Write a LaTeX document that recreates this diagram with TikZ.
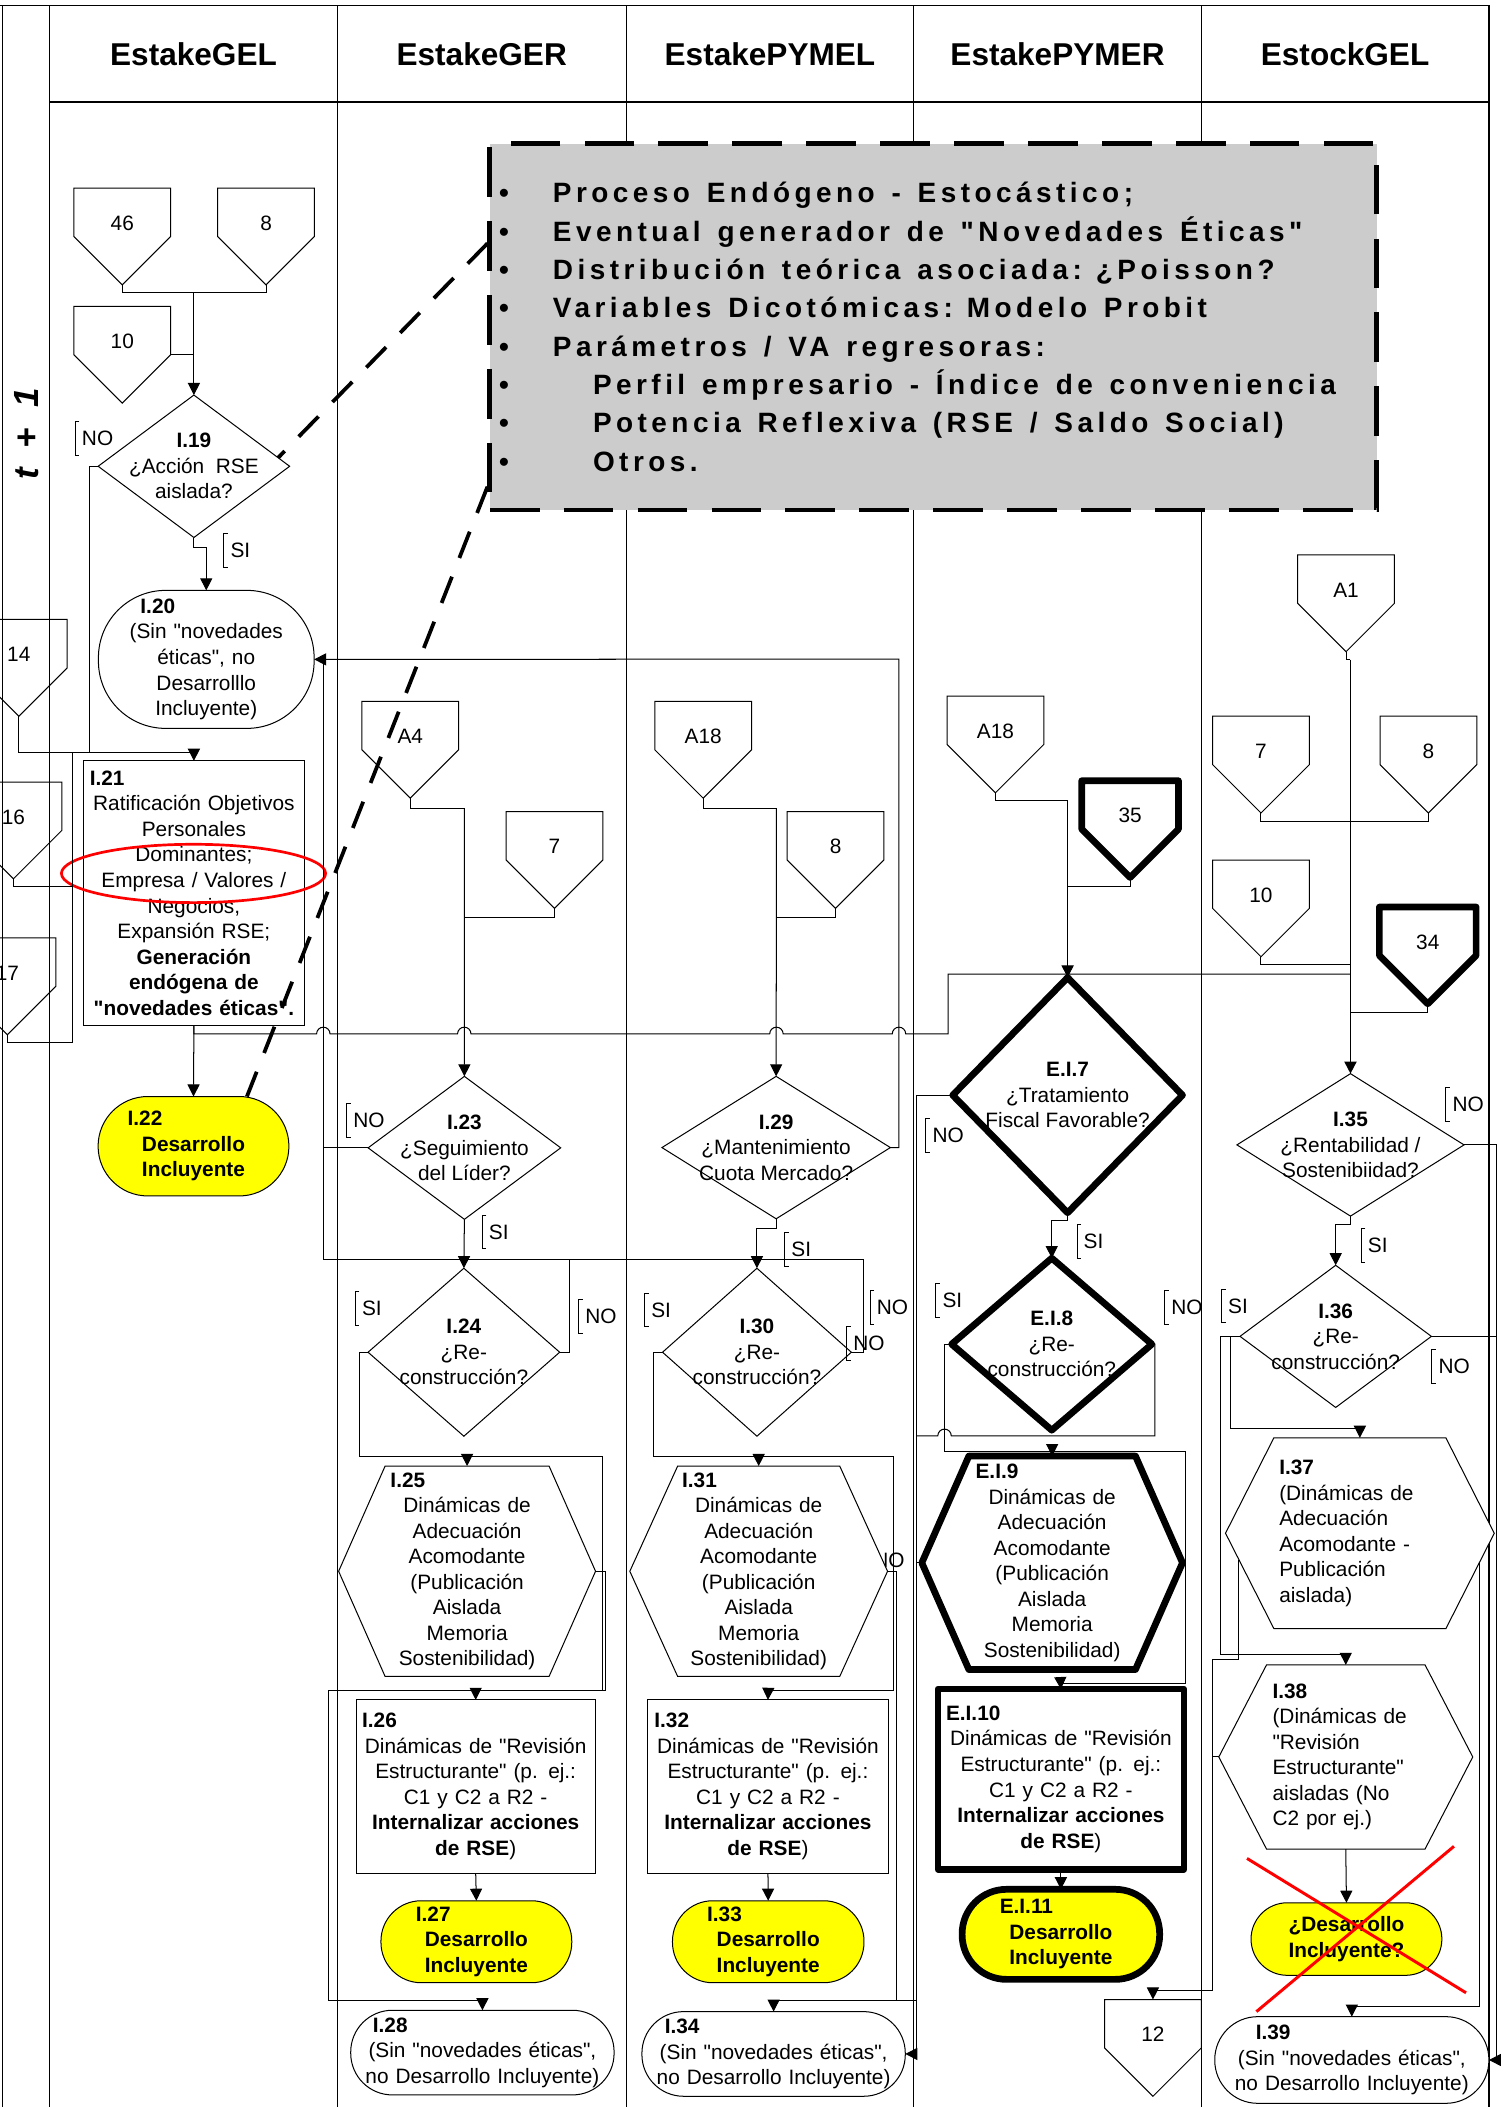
\documentclass[tikz,border=0pt]{standalone}
\usepackage{fontspec}
\setmainfont[Ligatures=TeXOff]{Liberation Sans}
\newfontfamily\notefont[LetterSpace=16, Ligatures=TeXOff]{Liberation Sans}
\usepackage{xcolor}
\usetikzlibrary{arrows.meta, positioning, calc}
\definecolor{notegray}{RGB}{204,204,204}
\definecolor{devyellow}{RGB}{255,255,0}
\tikzset{
    wire/.style={line width=0.75pt},
    arr/.style={wire, -{Triangle[length=9pt, width=9pt]}},
    lane/.style={line width=1pt},
    thickline/.style={line width=5pt, line join=round},
    bodytext/.style={font=\fontsize{15.5}{19}\selectfont, inner sep=0pt, outer sep=0pt},
    headtext/.style={font=\fontsize{23.5}{28}\selectfont\bfseries},
    boxnode/.style={bodytext, draw, wire, fill=white, align=center},
    termnode/.style={boxnode, rounded corners=31pt},
    devnode/.style={termnode, fill=devyellow, font=\fontsize{15.5}{19}\selectfont\bfseries},
    brtext/.style={bodytext, inner xsep=5pt, minimum height=25pt},
    notebox/.style={fill=notegray, draw=black, line width=3.5pt, dash pattern=on 37pt off 18pt,
        inner xsep=7pt, inner ysep=0pt, align=left,
        font=\notefont\fontsize{20.8}{28.5}\selectfont\bfseries},
    notelink/.style={line width=2.8pt, dash pattern=on 21pt off 15pt},
}
% off-page connector: [style]{name}{x}{top y}{label}
\newcommand{\offpage}[5][]{%
    \draw[wire,#1] (#3-36,#4) -- (#3+36,#4) -- (#3+36,#4+36) -- (#3,#4+72) -- (#3-36,#4+36) -- cycle;
    \node[bodytext] (#2) at (#3,#4+26) {#5};
    \coordinate (#2-n) at (#3,#4);
    \coordinate (#2-t) at (#3,#4+72);
    \coordinate (#2-e) at (#3+36,#4+36);
}
% decision: [style]{name}{x}{y}{width}{height}{text}
\newcommand{\decision}[7][]{%
    \node[bodytext, align=center, minimum width=#5, minimum height=#6] (#2) at (#3,#4) {#7};
    \draw[wire,#1] (#2.north) -- (#2.east) -- (#2.south) -- (#2.west) -- cycle;
}
% hexagon: [style]{name}{x}{y}{half top}{half width}{half height}{text width}{text}
\newcommand{\hexbox}[9][]{%
    \draw[wire, fill=white, #1] (#3-#5,#4-#7) -- (#3+#5,#4-#7) -- (#3+#6,#4) -- (#3+#5,#4+#7) -- (#3-#5,#4+#7) -- (#3-#6,#4) -- cycle;
    \node[bodytext, align=center, text width=#8, minimum width=2*#6, minimum height=2*#7, #1] (#2) at (#3,#4) {#9};
}
% bracket label: {name}{x}{y}{text}
\newcommand{\brlabel}[4]{%
    \node[brtext, anchor=west] (#1) at (#2,#3) {#4};
    \draw[wire] ([xshift=3pt]#1.north west) -- (#1.north west) -- (#1.south west) -- ([xshift=3pt]#1.south west);
}
\newcommand{\ttl}[2]{\hspace*{#1pt}\textbf{#2}\hfill\null}

\begin{document}
\begin{tikzpicture}[x=1pt, y=-1pt]
    \useasboundingbox (0,0) rectangle (1121,1568);
    \clip (0,0) rectangle (1121,1568);

    % lanes
    \draw[lane] (0,4) -- (1108,4);
    \draw[lane] (2,4) -- (2,1568);
    \foreach \lx in {37,251,466,680,894,1108} \draw[lane] (\lx,4) -- (\lx,1568);
    \draw[lane] (37,76) -- (1108,76);
    \node[headtext] (hdGEL)   at (144,40)   {EstakeGEL};
    \node[headtext] (hdGER)   at (358.5,40) {EstakeGER};
    \node[headtext] (hdPYMEL) at (573,40)   {EstakePYMEL};
    \node[headtext] (hdPYMER) at (787,40)   {EstakePYMER};
    \node[headtext] (hdSGEL)  at (1001,40)  {EstockGEL};
    \node[rotate=90, font=\fontsize{26}{30}\selectfont\bfseries\itshape] (periodo) at (20,323) {t\hspace{15pt}+\hspace{15pt}1};

    % callout
    \node[notebox, minimum width=660, minimum height=272.5, text width=646] (nota) at (694.5,243.25) {%
        \spaceskip=12.5pt plus 1pt minus 1pt\relax
        \makebox[40pt][l]{•}Proceso Endógeno - Estocástico;\\
        \makebox[40pt][l]{•}Eventual generador de "Novedades Éticas"\\
        \makebox[40pt][l]{•}Distribución teórica asociada: ¿Poisson?\\
        \makebox[40pt][l]{•}Variables Dicotómicas: Modelo Probit\\
        \makebox[40pt][l]{•}Parámetros / VA regresoras:\\
        \makebox[40pt][l]{•}\hspace*{29.8pt}Perfil empresario - Índice de conveniencia\\
        \makebox[40pt][l]{•}\hspace*{29.8pt}Potencia Reflexiva (RSE / Saldo Social)\\
        \makebox[40pt][l]{•}\hspace*{29.8pt}Otros.};

    % ---- EstakeGEL
    \offpage{c46}{91}{140}{46}
    \offpage{c8a}{198}{140}{8}
    \offpage{c10a}{91}{228}{10}
    \offpage{c14}{14}{461}{14}
    \offpage{c16}{10}{582}{16}
    \offpage{c17}{5.5}{698}{17}

    \decision{I19}{144.3}{347}{142.5}{106}{\textbf{I.19}\\¿Acción\ \ RSE\\aislada?}
    \brlabel{lNO19}{56}{326.4}{NO}
    \brlabel{lSI19}{166.6}{409.7}{SI}
    \node[termnode, minimum width=160.5, minimum height=102.7, rounded corners=50pt, text width=150] (I20) at (153.5,490.7)
        {\ttl{26}{I.20}\\(Sin "novedades\\éticas", no\\Desarrolllo\\Incluyente)};
    \node[boxnode, minimum width=164.5, minimum height=196.8, text width=157] (I21) at (144.3,664.6)
        {\ttl{1}{I.21}\\Ratificación Objetivos\\Personales\\Dominantes;\\Empresa / Valores /\\Negocios,\\Expansión RSE;\\\textbf{Generación}\\\textbf{endógena de}\\\textbf{"novedades éticas".}};
    \draw[red, line width=2pt] (144,650) ellipse [x radius=98.3, y radius=21.7];
    \node[devnode, minimum width=142, minimum height=74, rounded corners=37pt, text width=130] (I22) at (144,853)
        {\ttl{16}{I.22}\\Desarrollo\\Incluyente};

    \coordinate (jGEL) at (144.3,217.5);
    \coordinate (jI21) at (144.3,560);
    \coordinate (jNO19) at (66.7,560);
    \coordinate (j1617) at (54,560);
    \draw[wire] (c46-t) |- (jGEL) -| (c8a-t);
    \draw[arr] (jGEL) -- (I19.north);
    \draw[wire] (c10a-e) -- (c10a-e -| jGEL);
    \draw[wire] (I19.west) -| (jNO19);
    \draw[arr] (I19.south) -- ++(0,7.5) -| (I20.north);
    \draw[wire] (c14-t) |- (jI21);
    \draw[arr] (jI21) -- (I21.north);
    \draw[wire] (c16-t) |- (54,660);
    \draw[wire] (c17-t) |- (54,775.8) -- (j1617);
    \draw[arr] (I21.south) -- (I22.north);

    % ---- EstakeGER
    \offpage{cA4}{305.3}{522}{A4}
    \offpage{c7b}{412.6}{604}{7}
    \decision{I23}{345.6}{854.2}{143.3}{106.4}{\textbf{I.23}\\¿Seguimiento\\del Líder?}
    \brlabel{lNO23}{257.9}{834}{NO}
    \brlabel{lSI23}{358.9}{916.7}{SI}
    \decision{I24}{345.2}{1006.3}{142.6}{125}{\textbf{I.24}\\¿Re-\\construcción?}
    \brlabel{lSI24}{264.4}{973.7}{SI}
    \brlabel{lNO24}{430.6}{979.7}{NO}
    \hexbox{I25}{347.6}{1169.3}{61}{95.6}{78.3}{140}
        {\ttl{13}{I.25}\\Dinámicas de\\Adecuación\\Acomodante\\(Publicación\\Aislada\\Memoria\\Sostenibilidad)}
    \node[boxnode, minimum width=178, minimum height=129, text width=172] (I26) at (354,1329.5)
        {\ttl{1.5}{I.26}\\Dinámicas de "Revisión\\Estructurante" (p. ej.:\\C1 y C2 a R2 -\\\textbf{Internalizar acciones}\\\textbf{de RSE})};
    \node[devnode, minimum width=142, minimum height=61, rounded corners=30pt, text width=130] (I27) at (354.5,1445)
        {\ttl{20}{I.27}\\Desarrollo\\Incluyente};
    \node[termnode, minimum width=196, minimum height=63, rounded corners=31pt, text width=182] (I28) at (359,1527.5)
        {\ttl{9.5}{I.28}\\(Sin "novedades éticas",\\no Desarrollo Incluyente)};

    \coordinate (jA4) at (345.5,601.5);
    \coordinate (jI20) at (240.6,490.5);
    \coordinate (jLoop) at (240.6,937);
    \coordinate (jLoopR) at (642.6,937);
    \coordinate (jNO24) at (423.8,937);
    \coordinate (jI25) at (347.6,1083.8);
    \coordinate (jI25r) at (448.2,1258);
    \coordinate (jI26) at (354,1258);
    \coordinate (jByp) at (244.7,1488.6);
    \draw[wire] (cA4-t) |- (jA4);
    \draw[arr] (jA4) -- (I23.north);
    \draw[wire] (c7b-t) -- ++(0,7) -| (jA4);
    \draw[wire] (I23.west) -- (I23.west -| jI20);
    \draw[arr] (I23.south) -- (I24.north);
    \draw[wire] (I24.east) -| (jNO24);
    \draw[wire] (I24.west) -- ++(-6.5,0) |- (jI25);
    \draw[arr] (jI25) -- (I25.north);
    \draw[wire] (jI25) -| (jI25r) -- (jI26);
    \draw[wire] (I25.east) -- ++(7.3,0) |- (jI26);
    \draw[arr] (jI26) -- (I26.north);
    \draw[arr] (jI26) -| (jByp) -| (I28.north);
    \draw[arr] (I26.south) -- (I27.north);

    % ---- EstakePYMEL
    \offpage{cA18a}{523.3}{522}{A18}
    \offpage{c8c}{621.8}{604}{8}
    \decision{I29}{577.6}{854}{170}{106}{\textbf{I.29}\\¿Mantenimiento\\Cuota Mercado?}
    \brlabel{lSI29}{584}{930}{SI}
    \decision{I30}{563.3}{1006.3}{140.5}{125}{\textbf{I.30}\\¿Re-\\construcción?}
    \brlabel{lSI30}{479.7}{975}{SI}
    \brlabel{lNO30a}{647.5}{973}{NO}
    \brlabel{lNO30b}{630}{1000}{NO}
    \node[bodytext, anchor=west] (lNO31) at (650,1161) {NO};
    \hexbox{I31}{564.6}{1169.3}{60.3}{95.9}{78.3}{140}
        {\ttl{13}{I.31}\\Dinámicas de\\Adecuación\\Acomodante\\(Publicación\\Aislada\\Memoria\\Sostenibilidad)}
    \node[boxnode, minimum width=179, minimum height=129, text width=172] (I32) at (571.5,1329.5)
        {\ttl{1.5}{I.32}\\Dinámicas de "Revisión\\Estructurante" (p. ej.:\\C1 y C2 a R2 -\\\textbf{Internalizar acciones}\\\textbf{de RSE})};
    \node[devnode, minimum width=142.5, minimum height=61, rounded corners=30pt, text width=130] (I33) at (571.7,1445)
        {\ttl{19.5}{I.33}\\Desarrollo\\Incluyente};
    \node[termnode, minimum width=196, minimum height=63, rounded corners=31pt, text width=182] (I34) at (575.7,1528.5)
        {\ttl{10}{I.34}\\(Sin "novedades éticas",\\no Desarrollo Incluyente)};

    \coordinate (jA18a) at (577.8,601.5);
    \coordinate (jNO29) at (669,490.5);
    \coordinate (jI31) at (564.6,1083.8);
    \coordinate (jI31r) at (665,1258);
    \coordinate (jI32) at (571.7,1258);
    \coordinate (jI31b) at (667.3,1488.6);
    \coordinate (jI34r) at (682,1488.6);
    \draw[wire] (jI20) -- (jLoop) -- (jLoopR) |- (I30.east);
    \draw[wire] (cA18a-t) |- (jA18a);
    \draw[arr] (jA18a) -- (I29.north);
    \draw[wire] (c8c-t) -- ++(0,6.5) -| (jA18a);
    \draw[arr] (I29.east) -| (jNO29) -- (I20.east);
    \draw[arr] (I29.south) -- ++(0,7.5) -| (I30.north);
    \draw[wire] (I30.west) -- ++(-7.1,0) |- (jI31);
    \draw[arr] (jI31) -- (I31.north);
    \draw[wire] (jI31) -| (jI31r) -- (jI32);
    \draw[arr] (jI32) -- (I32.north);
    \draw[wire] (I31.east) -| (jI31b);
    \draw[arr] (jI34r) -| (I34.north);
    \draw[arr] (I32.south) -- (I33.north);

    % ---- EstakePYMER
    \offpage{cA18b}{740.8}{518}{A18}
    \offpage[thickline]{c35}{841}{581}{35}
    \decision[thickline]{EI7}{794.5}{815}{171}{175}{\textbf{E.I.7}\\¿Tratamiento\\Fiscal Favorable?}
    \brlabel{lNO7}{689}{845}{NO}
    \brlabel{lSI7}{801.5}{924}{SI}
    \decision[thickline]{EI8}{782.7}{1000.3}{149}{128}{\textbf{E.I.8}\\¿Re-\\construcción?}
    \brlabel{lSI8}{696.4}{968}{SI}
    \brlabel{lNO8}{866.7}{973}{NO}
    \hexbox[thickline]{EI9}{783}{1163}{62}{97}{79.4}{140}
        {\ttl{13}{E.I.9}\\Dinámicas de\\Adecuación\\Acomodante\\(Publicación\\Aislada\\Memoria\\Sostenibilidad)}
    \node[boxnode, thickline, minimum width=183, minimum height=134, text width=175] (EI10) at (789.5,1324)
        {\ttl{2}{E.I.10}\\Dinámicas de "Revisión\\Estructurante" (p. ej.:\\C1 y C2 a R2 -\\\textbf{Internalizar acciones}\\\textbf{de RSE})};
    \node[devnode, thickline, minimum width=147, minimum height=67, rounded corners=33pt, text width=131] (EI11) at (789.5,1439.5)
        {\ttl{20}{E.I.11}\\Desarrollo\\Incluyente};
    \offpage{c12}{858}{1488}{12}

    \coordinate (jA18b) at (794.5,596);
    \coordinate (jNO7) at (682,1528.5);
    \coordinate (jNO8) at (682,1068.5);
    \coordinate (jEI9) at (783,1080);
    \coordinate (jEI9r) at (882.4,1253);
    \coordinate (jEI10) at (789.3,1253);
    \draw[wire] (cA18b-t) |- (jA18b);
    \draw[arr] (jA18b) -- (EI7.north);
    \draw[wire] (c35-t) -- ++(0,6.4) -| (jA18b);
    \draw[arr] (EI7.west) -| (jNO7) -- (I34.east);
    \draw[arr] (EI7.south) -- ++(0,6) -| (EI8.north);
    \draw[wire] (EI8.west) -- ++(-5.3,0) |- (jEI9);
    \draw[arr] (jEI9) -- (EI9.north);
    \draw[wire] (jEI9) -| (jEI9r) -- (jEI10);
    \draw[arr] (jEI10) -- (EI10.north);
    \draw[wire] (EI8.east) -- ++(2.2,0) |- (707.9,1068.5) arc[start angle=0, end angle=180, radius=5pt] -- (jNO8);
    \draw[wire] (EI9.west) -- (EI9.west -| jNO7);
    \draw[arr] (EI10.south) -- (EI11.north);

    % ---- EstockGEL
    \offpage{cA1}{1001.7}{413}{A1}
    \offpage{c7e}{938.4}{533}{7}
    \offpage{c8e}{1063}{533}{8}
    \offpage{c10e}{938.4}{640}{10}
    \offpage[thickline]{c34}{1062.5}{675}{34}
    \decision{I35}{1005}{852}{169}{106}{\textbf{I.35}\\¿Rentabilidad /\\Sostenibiidad?}
    \brlabel{lNO35}{1076}{822}{NO}
    \brlabel{lSI35}{1013}{927}{SI}
    \decision{I36}{994}{994.5}{142.4}{105.8}{\textbf{I.36}\\¿Re-\\construcción?}
    \brlabel{lSI36}{909}{972}{SI}
    \brlabel{lNO36}{1065.5}{1017}{NO}
    \hexbox[align=left]{I37}{1012}{1141}{64}{100}{71}{120}
        {\textbf{I.37}\\(Dinámicas de\\Adecuación\\Acomodante -\\Publicación\\aislada)}
    \hexbox[align=left]{I38}{1001.5}{1307.5}{59}{94.5}{68.5}{109}
        {\textbf{I.38}\\(Dinámicas de\\"Revisión\\Estructurante"\\aisladas (No\\C2 por ej.)}
    \node[devnode, minimum width=142, minimum height=54, rounded corners=27pt, align=center] (DI) at (1002,1443)
        {¿Desarrollo\\Incluyente?};
    \draw[red, line width=2.2pt] (928,1383) -- (1091,1483);
    \draw[red, line width=2.2pt] (935,1497) -- (1082,1374);
    \node[termnode, minimum width=204, minimum height=64.5, rounded corners=32pt, text width=190] (I39) at (1006,1533)
        {\ttl{23.5}{I.39}\\(Sin "novedades éticas",\\no Desarrollo Incluyente)};

    \coordinate (jA1) at (1005,490.8);
    \coordinate (jR) at (1114,1533);
    \coordinate (jI37) at (1012,1063.3);
    \coordinate (jI38) at (1001.5,1231.5);
    \coordinate (I37-sw) at (922,1161);
    \coordinate (I37-se) at (1101,1163);
    \coordinate (jI37l) at (902,1235);
    \coordinate (jI38l) at (902,1481);
    \coordinate (jI39) at (1006,1493);
    \draw[wire] (cA1-t) |- (jA1);
    \draw[arr, line width=1.3pt] (jA1) -- (I35.north);
    \draw[wire] (c7e-t) -- ++(0,6) -| (c8e-t);
    \draw[wire] (c10e-t) -- ++(0,6) -| (jA1);
    \draw[wire] (c34-t) -- ++(0,6.5) -| (jA1);
    \draw[arr] (I35.south) -- ++(0,6.5) -| (I36.north);
    \draw[arr] (I35.east) -| (jR) -- (I39.east);
    \draw[wire] (I36.east) -- (I36.east -| jR);
    \draw[wire] (I36.west) -- ++(-6.9,0) |- (jI37);
    \draw[arr] (jI37) -- (I37.north);
    \draw[wire] (I36.west) -- ++(-14.6,0) |- (jI38);
    \draw[arr] (jI38) -- (I38.north);
    \draw[arr] (I38.west) -| (jI38l) -| (c12-n);
    \draw[wire] (I37-sw) |- (jI37l) -- (jI38l);
    \draw[wire] (I37-se) |- (jI39);
    \draw[arr] (jI39) -- (I39.north);
    \draw[arr] (I38.south) -- (DI.north);

    % long line from I.21 with hops
    \coordinate (jEI7) at (705.5,725);
    \draw[wire] (I21.south) -- ++(0,6.4) -- (235.6,769.4) arc[start angle=180, end angle=0, radius=5pt]
        -- (340.5,769.4) arc[start angle=180, end angle=0, radius=5pt]
        -- (572.8,769.4) arc[start angle=180, end angle=0, radius=5pt]
        -- (664,769.4) arc[start angle=180, end angle=0, radius=5pt]
        -- (705.5,769.4) -- (jEI7) -- (jEI7 -| jA1);

    % callout links
    \draw[notelink] ($(nota.north west)!0.275!(nota.south west)$) -- ($(I19.north)!0.88!(I19.east)$);
    \draw[notelink] ($(nota.north west)!0.931!(nota.south west)$) -- ($(I22.north)!0.56!(I22.north east)$);
\end{tikzpicture}
\end{document}
